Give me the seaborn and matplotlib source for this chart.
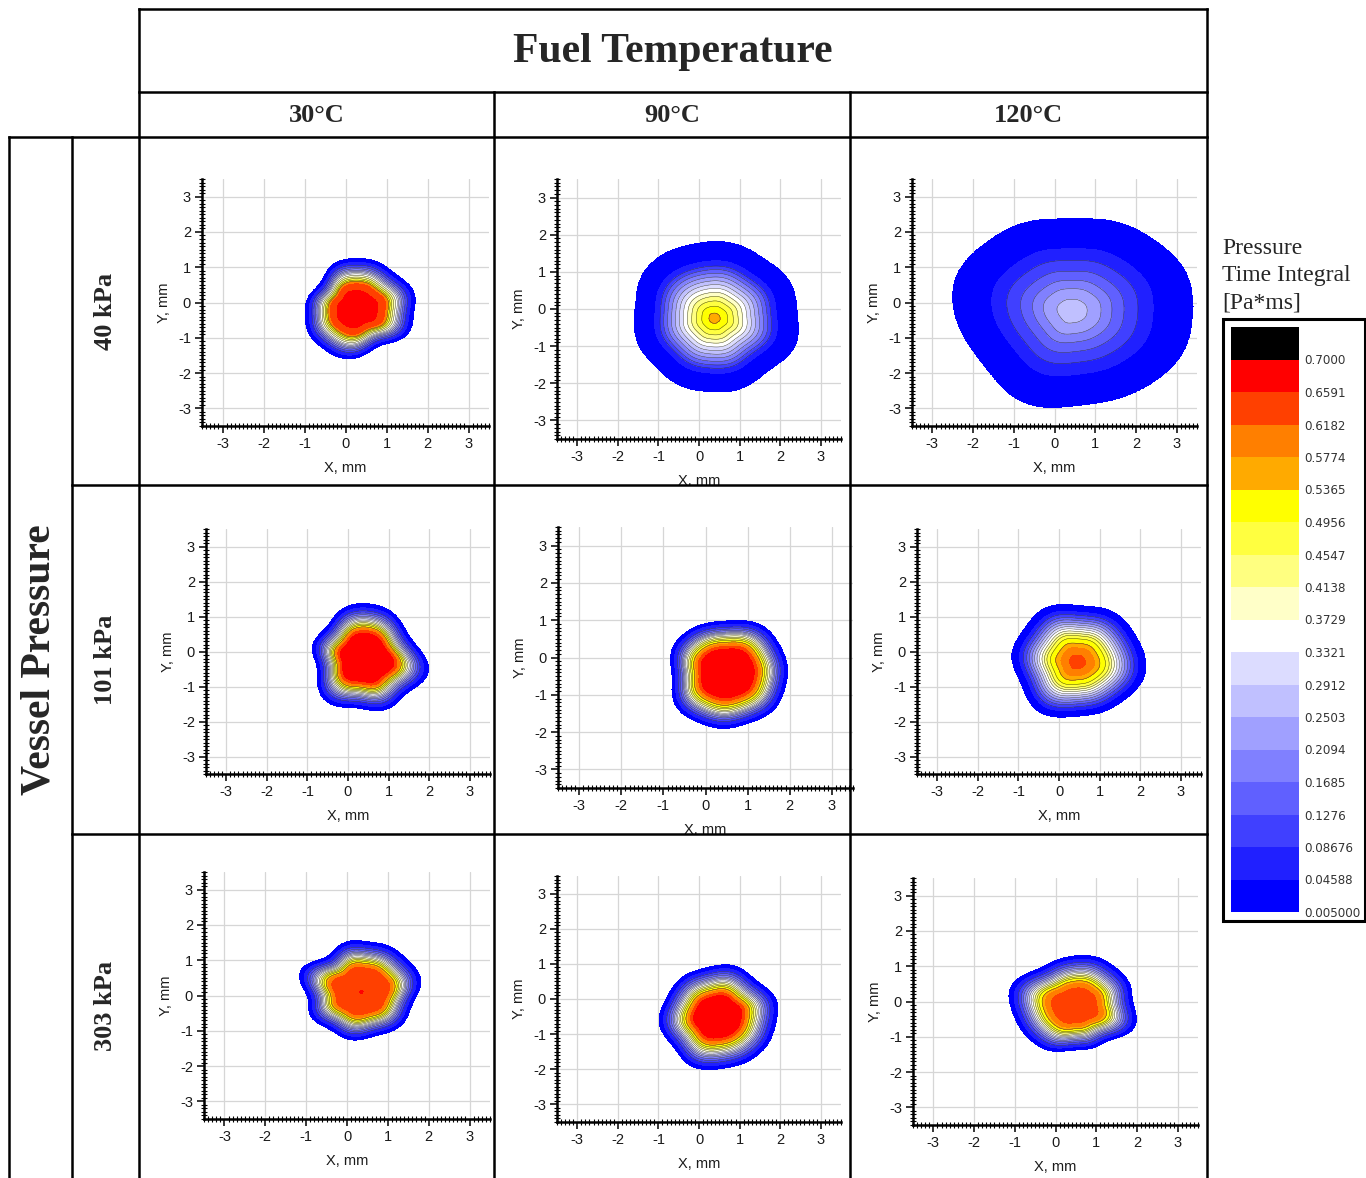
import numpy as np
import matplotlib
matplotlib.use("Agg")
import matplotlib.pyplot as plt
import seaborn as sns
from matplotlib.colors import ListedColormap, BoundaryNorm
from matplotlib.cm import ScalarMappable
from matplotlib.ticker import MultipleLocator
from matplotlib.lines import Line2D
from matplotlib.patches import Rectangle
from matplotlib.transforms import Bbox, TransformedBbox

# ---------------- data ----------------
FUEL_TEMPS = ["30°C", "90°C", "120°C"]
VESSEL_PRESSURES = ["40 kPa", "101 kPa", "303 kPa"]

LEVELS = [0.005, 0.04588, 0.08676, 0.1276, 0.1685, 0.2094, 0.2503, 0.2912, 0.3321,
          0.3729, 0.4138, 0.4547, 0.4956, 0.5365, 0.5774, 0.6182, 0.6591, 0.7000]
LEVEL_LABELS = ["0.005000", "0.04588", "0.08676", "0.1276", "0.1685", "0.2094", "0.2503",
                "0.2912", "0.3321", "0.3729", "0.4138", "0.4547", "0.4956", "0.5365",
                "0.5774", "0.6182", "0.6591", "0.7000"]
BAND_COLORS = ["#0000ff", "#2020ff", "#4040ff", "#6060ff", "#8080ff", "#a0a0ff", "#c0c0ff",
               "#dcdcff", "#ffffff", "#ffffc8", "#ffff80", "#ffff40", "#ffff00", "#ffaa00",
               "#ff7f00", "#ff4000", "#ff0000", "#000000"]

# boundary radii (mm) sampled every 22.5 deg starting at +X, counter-clockwise
ANGLES_DEG = [0, 22.5, 45, 67.5, 90, 112.5, 135, 157.5, 180, 202.5, 225, 247.5, 270, 292.5, 315, 337.5]

# 40 kPa
CENTER_40_30 = (0.25, -0.2)
RADII_40_30 = [1.43, 1.5, 1.4, 1.45, 1.45, 1.4, 1.17, 1.19, 1.23, 1.3, 1.35, 1.4, 1.38, 1.2, 1.3, 1.45]
PROF_S_40_30 = [0, 0.36, 0.5, 0.53, 0.56, 0.6, 0.7, 0.78, 0.85, 0.92, 1.0]
PROF_Z_40_30 = [0.69, 0.662, 0.62, 0.58, 0.52, 0.46, 0.33, 0.19, 0.1, 0.046, 0.005]

CENTER_40_90 = (0.38, -0.25)
RADII_40_90 = [2.06, 2.1, 2.04, 2.05, 2.07, 2.09, 2.15, 2.06, 1.97, 2.0, 1.95, 2.0, 1.98, 2.0, 1.95, 2.12]
PROF_S_40_90 = [0, 0.06, 0.15, 0.25, 0.38, 0.5, 0.62, 0.72, 0.85, 1.0]
PROF_Z_40_90 = [0.56, 0.54, 0.5, 0.44, 0.34, 0.24, 0.14, 0.05, 0.03, 0.005]

CENTER_40_120 = (0.43, -0.24)
RADII_40_120 = [2.97, 3.0, 2.85, 2.75, 2.62, 2.75, 2.85, 3.0, 2.9, 2.7, 2.7, 2.85, 2.7, 2.72, 2.84, 2.97]
PROF_S_40_120 = [0, 0.126, 0.24, 0.33, 0.43, 0.545, 0.67, 0.85, 1.0]
PROF_Z_40_120 = [0.27, 0.2503, 0.2094, 0.1685, 0.1276, 0.0868, 0.0459, 0.02, 0.005]

# 101 kPa
CENTER_101_30 = (0.4, -0.2)
RADII_101_30 = [1.52, 1.3, 1.35, 1.52, 1.57, 1.5, 1.3, 1.33, 1.23, 1.25, 1.5, 1.5, 1.45, 1.55, 1.45, 1.6]
PROF_S_101_30 = [0, 0.45, 0.53, 0.6, 0.7, 0.78, 0.85, 0.92, 1.0]
PROF_Z_101_30 = [0.69, 0.665, 0.6, 0.5, 0.33, 0.19, 0.1, 0.046, 0.005]

CENTER_101_90 = (0.5, -0.4)
RADII_101_90 = [1.45, 1.45, 1.5, 1.48, 1.38, 1.41, 1.45, 1.42, 1.3, 1.4, 1.52, 1.5, 1.5, 1.46, 1.5, 1.46]
PROF_S_101_90 = [0, 0.45, 0.53, 0.62, 0.72, 0.79, 0.86, 0.93, 1.0]
PROF_Z_101_90 = [0.69, 0.662, 0.6, 0.5, 0.35, 0.2, 0.1, 0.046, 0.005]

CENTER_101_120 = (0.45, -0.3)
RADII_101_120 = [1.69, 1.63, 1.66, 1.66, 1.62, 1.73, 1.65, 1.62, 1.6, 1.52, 1.65, 1.68, 1.55, 1.56, 1.58, 1.68]
PROF_S_101_120 = [0, 0.1, 0.25, 0.44, 0.56, 0.68, 0.78, 0.88, 1.0]
PROF_Z_101_120 = [0.64, 0.625, 0.577, 0.48, 0.35, 0.22, 0.12, 0.046, 0.005]

# 303 kPa
CENTER_303_30 = (0.35, 0.1)
RADII_303_30 = [1.4, 1.5, 1.45, 1.46, 1.45, 1.42, 1.34, 1.6, 1.37, 1.39, 1.35, 1.35, 1.35, 1.3, 1.36, 1.3]
PROF_S_303_30 = [0, 0.1, 0.45, 0.52, 0.6, 0.7, 0.78, 0.85, 0.92, 1.0]
PROF_Z_303_30 = [0.665, 0.645, 0.635, 0.59, 0.5, 0.34, 0.19, 0.1, 0.046, 0.005]

CENTER_303_90 = (0.45, -0.5)
RADII_303_90 = [1.48, 1.52, 1.41, 1.49, 1.46, 1.41, 1.4, 1.36, 1.43, 1.41, 1.41, 1.55, 1.5, 1.48, 1.48, 1.46]
PROF_S_303_90 = [0, 0.4, 0.48, 0.57, 0.68, 0.77, 0.85, 0.92, 1.0]
PROF_Z_303_90 = [0.69, 0.662, 0.6, 0.5, 0.34, 0.19, 0.1, 0.046, 0.005]

CENTER_303_120 = (0.5, -0.15)
RADII_303_120 = [1.43, 1.46, 1.48, 1.5, 1.45, 1.4, 1.45, 1.68, 1.6, 1.5, 1.45, 1.37, 1.23, 1.24, 1.3, 1.55]
PROF_S_303_120 = [0, 0.35, 0.45, 0.55, 0.65, 0.74, 0.83, 0.92, 1.0]
PROF_Z_303_120 = [0.645, 0.625, 0.58, 0.5, 0.36, 0.22, 0.11, 0.046, 0.005]

PANELS = [
    [(CENTER_40_30, RADII_40_30, PROF_S_40_30, PROF_Z_40_30),
     (CENTER_40_90, RADII_40_90, PROF_S_40_90, PROF_Z_40_90),
     (CENTER_40_120, RADII_40_120, PROF_S_40_120, PROF_Z_40_120)],
    [(CENTER_101_30, RADII_101_30, PROF_S_101_30, PROF_Z_101_30),
     (CENTER_101_90, RADII_101_90, PROF_S_101_90, PROF_Z_101_90),
     (CENTER_101_120, RADII_101_120, PROF_S_101_120, PROF_Z_101_120)],
    [(CENTER_303_30, RADII_303_30, PROF_S_303_30, PROF_Z_303_30),
     (CENTER_303_90, RADII_303_90, PROF_S_303_90, PROF_Z_303_90),
     (CENTER_303_120, RADII_303_120, PROF_S_303_120, PROF_Z_303_120)],
]

# ---------------- layout (pixels) ----------------
W, H = 1366, 1178
AX_BOXES = [  # left, top, right, bottom
    [(202, 179, 489, 426), (557, 179, 841, 439), (912, 179, 1197, 426)],
    [(206, 529, 490, 774), (558, 527, 853, 788), (917, 529, 1201, 774)],
    [(204, 872, 490, 1119), (557, 876, 841, 1122), (913, 878, 1198, 1125)],
]
COL_EDGES = [139, 494, 850, 1207]
ROW_EDGES = [137, 485, 834, 1178]


def fx(x):
    return x / W


def fy(y):
    return 1 - y / H


def rect(l, t, r, b):
    return [l / W, 1 - b / H, (r - l) / W, (b - t) / H]


def boundary_radius(theta, radii):
    r = np.asarray(radii, dtype=float)
    n = len(r)
    c = np.fft.rfft(r) / n
    out = np.full(theta.shape, c[0].real)
    for k in range(1, n // 2 + 1):
        w = 1.0 if k == n // 2 else 2.0
        out = out + w * (c[k] * np.exp(1j * k * theta)).real
    return out


def field(X, Y, center, radii, ps, pz):
    dx = X - center[0]
    dy = Y - center[1]
    r = np.hypot(dx, dy)
    th = np.arctan2(dy, dx)
    s = r / boundary_radius(th, radii)
    return np.interp(s, ps, pz, right=0.0)


sns.set_style("white")
plt.rcParams['font.family'] = ['Liberation Sans', 'DejaVu Sans']
plt.rcParams['axes.unicode_minus'] = False

fig = plt.figure(figsize=(W / 100, H / 100), dpi=100)
fig.patch.set_facecolor("white")

g = np.linspace(-3.5, 3.5, 500)
X, Y = np.meshgrid(g, g)
fill_levels = LEVELS + [1.0]

for i in range(3):
    for j in range(3):
        l, t, r_, b = AX_BOXES[i][j]
        ax = fig.add_axes(rect(l, t, r_, b))
        center, radii, ps, pz = PANELS[i][j]
        Z = field(X, Y, center, radii, ps, pz)
        ax.contourf(X, Y, Z, levels=fill_levels, colors=BAND_COLORS, zorder=2)
        ax.contour(X, Y, Z, levels=LEVELS[2:14], colors="#2a2a2a", linewidths=0.3, zorder=3)
        ax.set_xlim(-3.5, 3.5)
        ax.set_ylim(-3.5, 3.5)
        ax.set_xticks(range(-3, 4))
        ax.set_yticks(range(-3, 4))
        ax.xaxis.set_minor_locator(MultipleLocator(0.1))
        ax.yaxis.set_minor_locator(MultipleLocator(0.1))
        ax.set_axisbelow(True)
        ax.grid(True, which="major", color="#d6d6d6", lw=0.9)
        ax.grid(False, which="minor")
        for sp in ("top", "right"):
            ax.spines[sp].set_visible(False)
        for sp in ("left", "bottom"):
            ax.spines[sp].set_color("black")
            ax.spines[sp].set_linewidth(1.8)
        ax.tick_params(which="both", bottom=True, left=True, top=False, right=False)
        ax.tick_params(which="major", direction="out", length=5, width=1.1,
                       labelsize=10.5, pad=3, colors="black", labelcolor="#1a1a1a")
        ax.tick_params(which="minor", direction="inout", length=4, width=0.8, colors="black")
        ax.set_xlabel("X, mm", fontsize=10.5, labelpad=7, color="#1a1a1a")
        ax.set_ylabel("Y, mm", fontsize=10.5, labelpad=5, color="#1a1a1a")
        cell = Bbox.from_extents(fx(COL_EDGES[j]), fy(ROW_EDGES[i + 1]),
                                 fx(COL_EDGES[j + 1]), fy(ROW_EDGES[i]))
        for lab in (ax.xaxis.label, ax.yaxis.label):
            lab.set_clip_on(True)
            lab.set_clip_box(TransformedBbox(cell, fig.transFigure))

# ---------------- table lines ----------------
def line(x0, y0, x1, y1, lw=1.8, color="black"):
    fig.add_artist(Line2D([fx(x0), fx(x1)], [fy(y0), fy(y1)], transform=fig.transFigure,
                          lw=lw, color=color, solid_capstyle="projecting", zorder=10))

line(139, 9, 1207, 9)
line(139, 92, 1207, 92)
line(9, 137, 1207, 137)
line(72, 485, 1207, 485)
line(72, 834, 1207, 834)
line(139, 9, 139, 1178)
line(1207, 9, 1207, 1178)
line(494, 92, 494, 1178)
line(850, 92, 850, 1178)
line(9, 137, 9, 1178)
line(72, 137, 72, 1178)

serif = ['Liberation Serif', 'DejaVu Serif']
fig.text(fx(673), fy(52), "Fuel Temperature", ha="center", va="center", fontsize=30,
         fontweight="bold", family=serif)
for j, lab in enumerate(FUEL_TEMPS):
    fig.text(fx((COL_EDGES[j] + COL_EDGES[j + 1]) / 2), fy(115), lab, ha="center", va="center",
             fontsize=19, fontweight="bold", family=serif)
fig.text(fx(40), fy(660), "Vessel Pressure", ha="center", va="center", rotation=90,
         fontsize=30, fontweight="bold", family=serif)
for i, lab in enumerate(VESSEL_PRESSURES):
    fig.text(fx(106), fy((ROW_EDGES[i] + ROW_EDGES[i + 1]) / 2), lab, ha="center", va="center",
             rotation=90, fontsize=19, fontweight="bold", family=serif)

# ---------------- colour legend ----------------
fig.text(fx(1222), fy(248), "Pressure", ha="left", va="center", fontsize=17, family=serif)
fig.text(fx(1222), fy(276), "Time Integral", ha="left", va="center", fontsize=17, family=serif)
fig.text(fx(1222), fy(303), "[Pa*ms]", ha="left", va="center", fontsize=17, family=serif)

fig.add_artist(Rectangle((fx(1223), fy(921)), fx(1365) - fx(1223), fy(319) - fy(921),
                         transform=fig.transFigure, fill=False, lw=2.2, edgecolor="black", zorder=10))
cax = fig.add_axes(rect(1231, 327, 1299, 912))
cmap = ListedColormap(BAND_COLORS)
bounds = LEVELS + [LEVELS[-1] + (LEVELS[-1] - LEVELS[-2])]
norm = BoundaryNorm(bounds, cmap.N)
cb = fig.colorbar(ScalarMappable(norm=norm, cmap=cmap), cax=cax, boundaries=bounds,
                  ticks=LEVELS, spacing="uniform")
cb.set_ticklabels(LEVEL_LABELS)
cb.outline.set_visible(False)
cax.minorticks_off()
for sp in cax.spines.values():
    sp.set_visible(False)
cax.tick_params(length=0, pad=4, labelcolor="#333333")
for tl in cax.get_yticklabels():
    tl.set_family("DejaVu Sans")
    tl.set_fontsize(8.6)

fig.savefig("out.png", dpi=100, facecolor="white")
